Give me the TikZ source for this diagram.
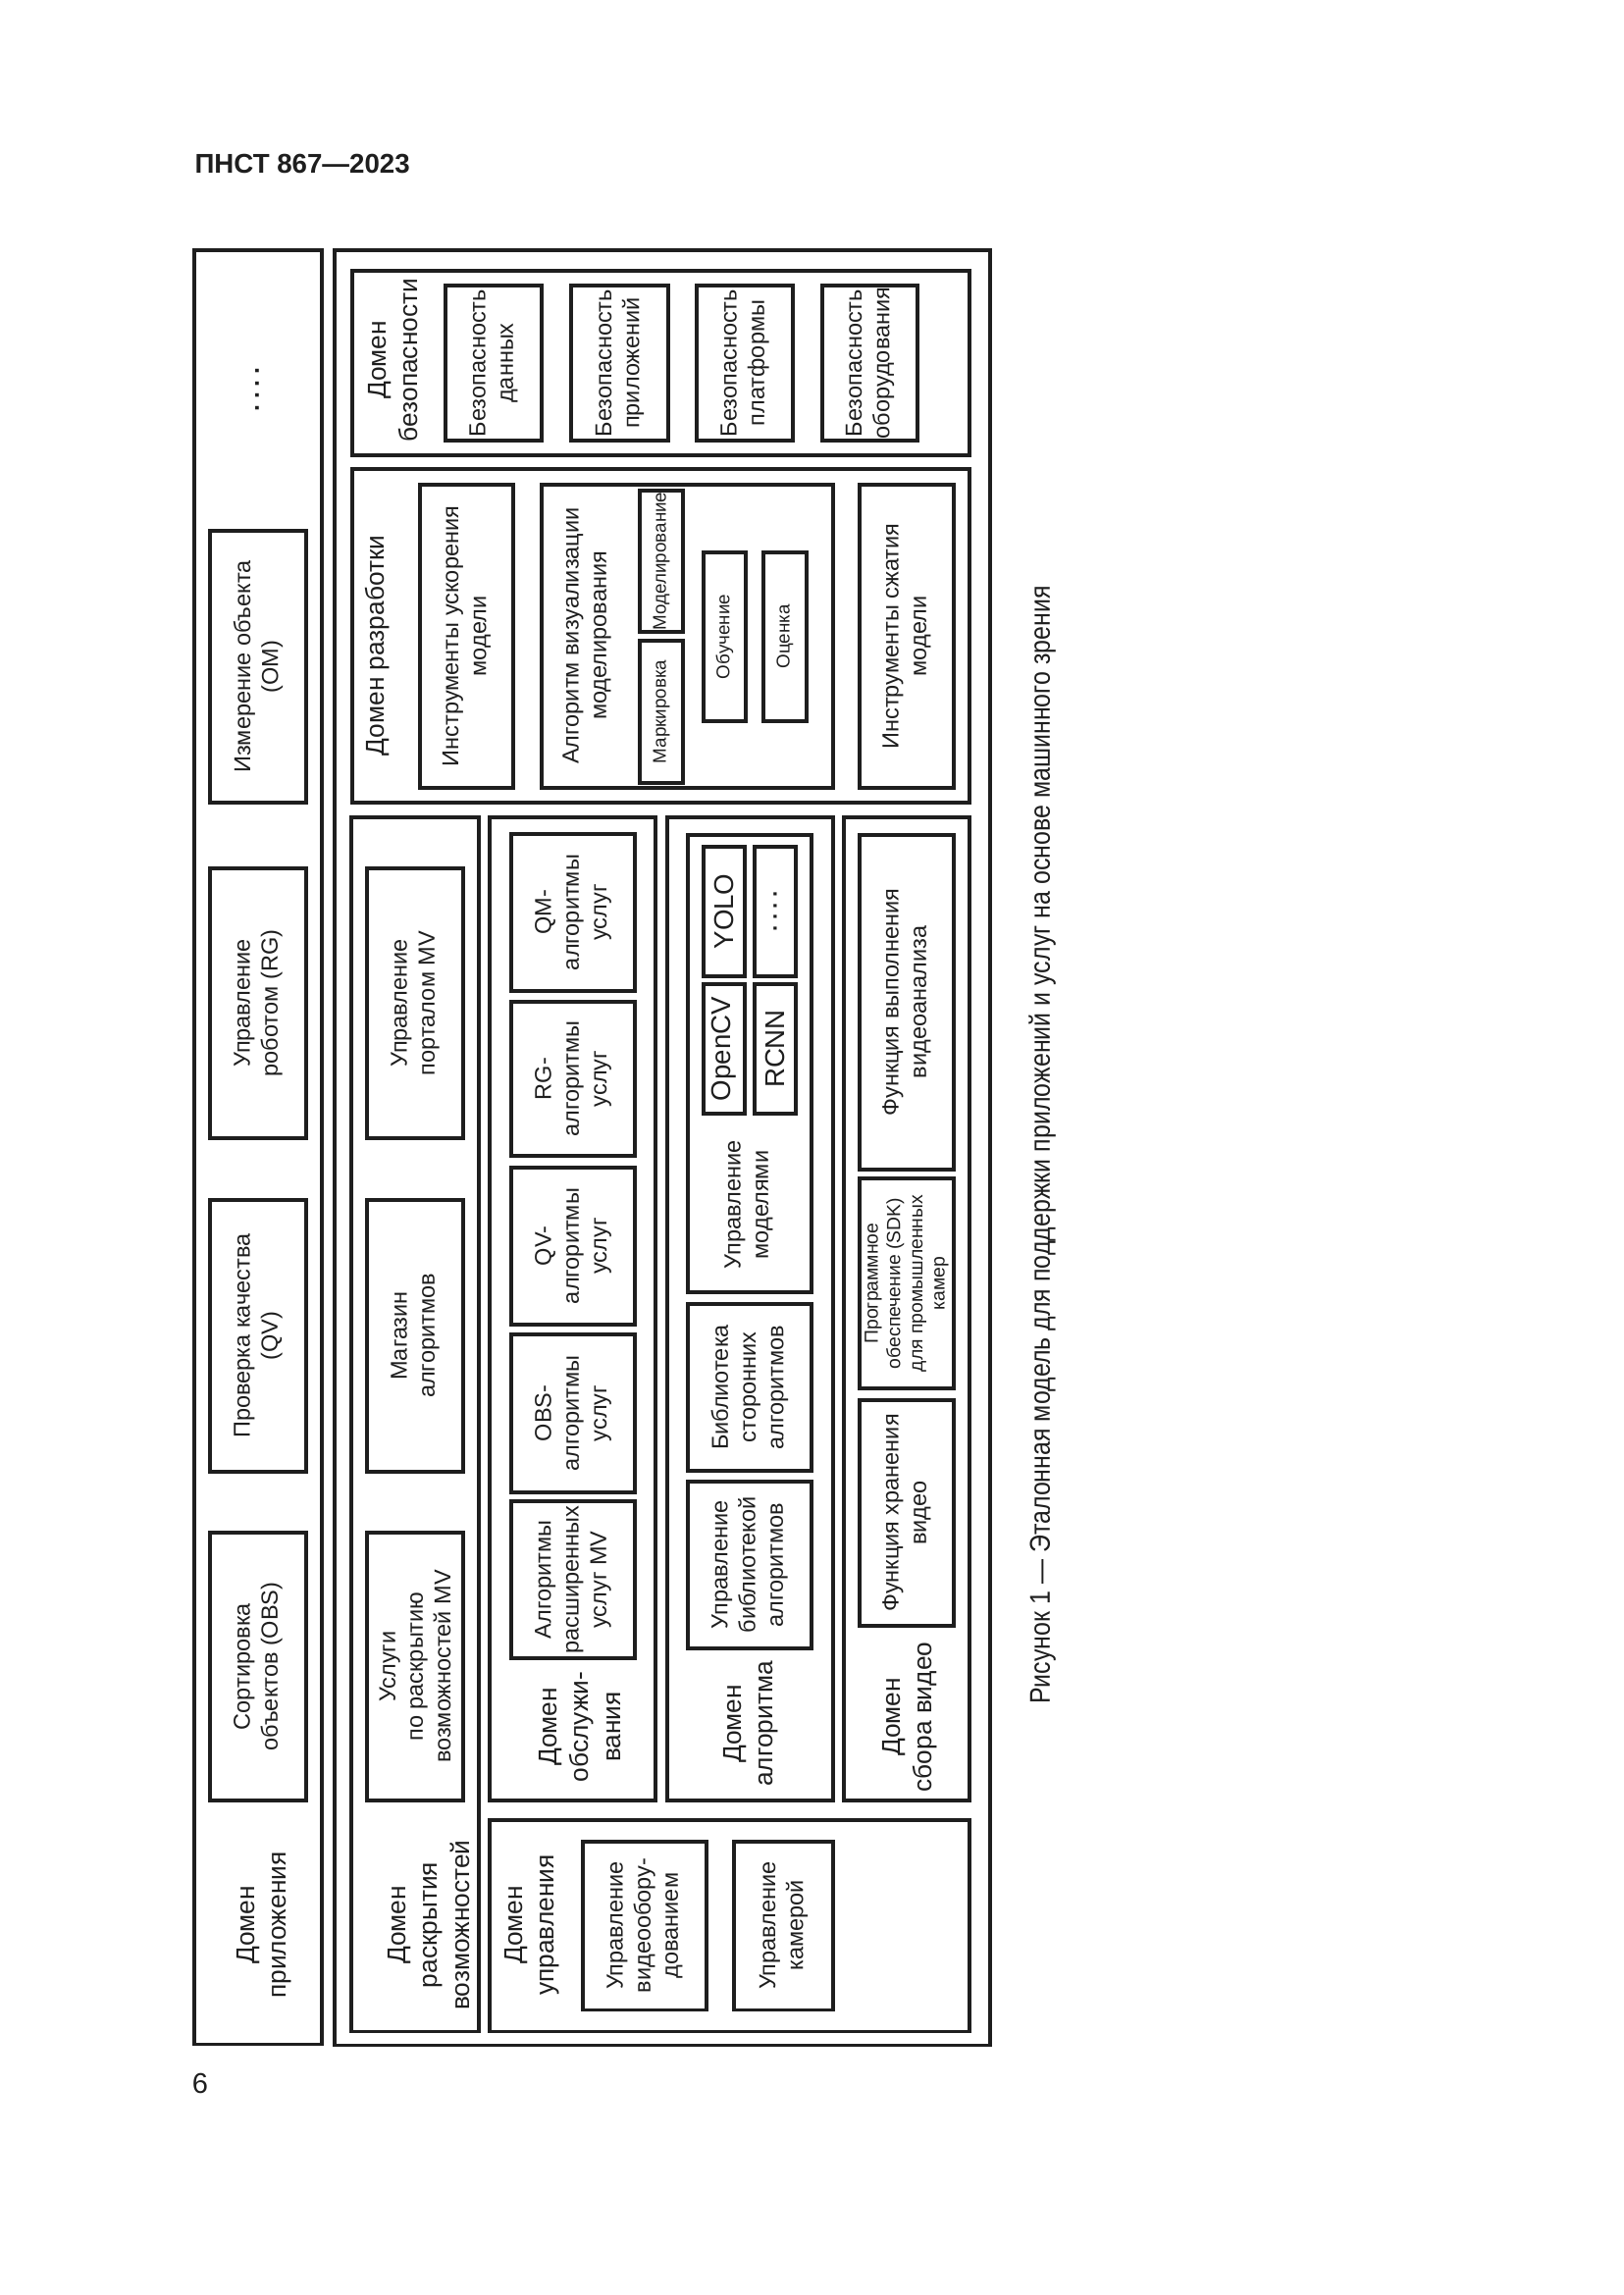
\documentclass[tikz,border=0pt]{standalone}
\usepackage{fontspec}
\setmainfont{Liberation Sans}
\newfontfamily\capfont[FakeStretch=0.86]{Liberation Sans}
\usetikzlibrary{fit}
\definecolor{ink}{HTML}{1E1E1E}

\tikzset{
  box/.style={draw=ink, line width=1.1pt, inner sep=0pt},
  txt/.style={rotate=90, align=center, text=ink, inner sep=0pt,
              font=\fontsize{8.5}{10.2}\selectfont},
  small/.style={txt, font=\fontsize{6.8}{8}\selectfont},
  sdk/.style={txt, font=\fontsize{7}{8.2}\selectfont},
  lib/.style={txt, font=\fontsize{10}{12}\selectfont},
  dom/.style={txt, font=\fontsize{9.5}{11.6}\selectfont},
}
\newcommand{\moredots}{\textbf{.\kern2pt.\kern2pt.\kern2pt.}}

\begin{document}
\begin{tikzpicture}[x=0.127mm, y=-0.127mm]
    \useasboundingbox (0,0) rectangle (1654,2339);

    % Page header
    \node[anchor=west, inner sep=0pt, text=ink,
          font=\bfseries\fontsize{10}{12}\selectfont] (head) at (198,167) {ПНСТ 867—2023};

    % Application domain
    \node[box, fit={(198,255) (328,2083)}] (appdom) {};
    \node[box, fit={(214,541) (312,818)}]   (om)  {};
    \node[box, fit={(214,885) (312,1160)}]  (rg)  {};
    \node[box, fit={(214,1223) (312,1500)}] (qv)  {};
    \node[box, fit={(214,1562) (312,1835)}] (obs) {};
    \node[txt, font=\fontsize{9}{11}\selectfont] (appmore) at (262,397) {\moredots};
    \node[txt] (om-t)  at (om)  {Измерение объекта\\(OM)};
    \node[txt] (rg-t)  at (rg)  {Управление\\роботом (RG)};
    \node[txt] (qv-t)  at (qv)  {Проверка качества\\(QV)};
    \node[txt] (obs-t) at (obs) {Сортировка\\объектов (OBS)};
    \node[dom] (applbl) at (269,1962) {Домен\\приложения};

    % Platform frame
    \node[box, fit={(341,255) (1009,2084)}] (platf) {};

    % Security domain
    \node[box, fit={(359,276) (988,464)}] (secdom) {};
    \node[box, fit={(454,291) (552,449)}] (secdata) {};
    \node[box, fit={(582,291) (681,449)}] (secapp)  {};
    \node[box, fit={(710,291) (808,449)}] (secplat) {};
    \node[box, fit={(838,291) (935,449)}] (sechw)   {};
    \node[dom] (seclbl) at (401,367) {Домен\\безопасности};
    \node[txt] (secdata-t) at (secdata) {Безопасность\\данных};
    \node[txt] (secapp-t)  at (secapp)  {Безопасность\\приложений};
    \node[txt] (secplat-t) at (secplat) {Безопасность\\платформы};
    \node[txt] (sechw-t)   at (sechw)   {Безопасность\\оборудования};

    % Development domain
    \node[box, fit={(359,478) (988,818)}] (devdom) {};
    \node[box, fit={(428,494) (523,803)}] (accel) {};
    \node[box, fit={(552,494) (849,803)}] (vis) {};
    \node[box, fit={(652,500) (696,644)}] (modl)  {};
    \node[box, fit={(652,653) (696,798)}] (mark)  {};
    \node[box, fit={(717,563) (760,735)}] (train) {};
    \node[box, fit={(778,563) (822,735)}] (evalu) {};
    \node[box, fit={(876,494) (972,803)}] (compr) {};
    \node[dom] (devlbl) at (385,658) {Домен разработки};
    \node[txt] (accel-t) at (accel) {Инструменты ускорения\\модели};
    \node[txt] (vislbl) at (598,648) {Алгоритм визуализации\\моделирования};
    \node[small] (modl-t)  at (modl)  {Моделирование};
    \node[small] (mark-t)  at (mark)  {Маркировка};
    \node[small] (train-t) at (train) {Обучение};
    \node[small] (evalu-t) at (evalu) {Оценка};
    \node[txt] (compr-t) at (compr) {Инструменты сжатия\\модели};

    % Capability exposure domain
    \node[box, fit={(358,833) (488,2070)}] (capdom) {};
    \node[box, fit={(374,885) (472,1160)}]  (portal) {};
    \node[box, fit={(374,1223) (472,1500)}] (store)  {};
    \node[box, fit={(374,1562) (472,1835)}] (expo)   {};
    \node[txt] (portal-t) at (portal) {Управление\\порталом MV};
    \node[txt] (store-t)  at (store)  {Магазин\\алгоритмов};
    \node[txt] (expo-t)   at (expo)   {Услуги\\по раскрытию\\возможностей MV};
    \node[dom] (caplbl) at (437,1962) {Домен\\раскрытия\\возможностей};

    % Service domain
    \node[box, fit={(499,833) (668,1835)}] (srvdom) {};
    \node[box, fit={(521,850) (647,1010)}]  (qmalg)  {};
    \node[box, fit={(521,1021) (647,1178)}] (rgalg)  {};
    \node[box, fit={(521,1190) (647,1350)}] (qvalg)  {};
    \node[box, fit={(521,1360) (647,1521)}] (obsalg) {};
    \node[box, fit={(521,1530) (647,1690)}] (extalg) {};
    \node[txt] (qmalg-t)  at (qmalg)  {QM-\\алгоритмы\\услуг};
    \node[txt] (rgalg-t)  at (rgalg)  {RG-\\алгоритмы\\услуг};
    \node[txt] (qvalg-t)  at (qvalg)  {QV-\\алгоритмы\\услуг};
    \node[txt] (obsalg-t) at (obsalg) {OBS-\\алгоритмы\\услуг};
    \node[txt] (extalg-t) at (extalg) {Алгоритмы\\расширенных\\услуг MV};
    \node[dom] (srvlbl) at (591,1760) {Домен\\обслужи-\\вания};

    % Algorithm domain
    \node[box, fit={(680,833) (849,1835)}] (algdom) {};
    \node[box, fit={(701,851) (827,1317)}] (mdlmgmt) {};
    \node[box, fit={(717,863) (759,995)}]   (yolo)   {};
    \node[box, fit={(717,1003) (759,1135)}] (opencv) {};
    \node[box, fit={(769,863) (811,995)}]   (more)   {};
    \node[box, fit={(769,1003) (811,1135)}] (rcnn)   {};
    \node[box, fit={(701,1329) (827,1499)}] (lib3)    {};
    \node[box, fit={(701,1510) (827,1680)}] (libmgmt) {};
    \node[lib] (yolo-t)   at (yolo)   {YOLO};
    \node[lib] (opencv-t) at (opencv) {OpenCV};
    \node[txt, font=\fontsize{8}{10}\selectfont] (more-t) at (more) {\moredots};
    \node[lib] (rcnn-t)   at (rcnn)   {RCNN};
    \node[txt] (mdllbl) at (763,1228) {Управление\\моделями};
    \node[txt] (lib3-t)    at (lib3)    {Библиотека\\сторонних\\алгоритмов};
    \node[txt] (libmgmt-t) at (libmgmt) {Управление\\библиотекой\\алгоритмов};
    \node[dom] (alglbl) at (765,1757) {Домен\\алгоритма};

    % Video collection domain
    \node[box, fit={(860,833) (988,1835)}] (viddom) {};
    \node[box, fit={(876,851) (972,1192)}]  (vana)   {};
    \node[box, fit={(876,1201) (972,1415)}] (sdkbox) {};
    \node[box, fit={(876,1427) (972,1657)}] (vstore) {};
    \node[txt] (vana-t)   at (vana)   {Функция выполнения\\видеоанализа};
    \node[sdk] (sdkbox-t) at (sdkbox) {Программное\\обеспечение (SDK)\\для промышленных\\камер};
    \node[txt] (vstore-t) at (vstore) {Функция хранения\\видео};
    \node[dom] (vidlbl) at (927,1750) {Домен\\сбора видео};

    % Control domain
    \node[box, fit={(499,1855) (988,2070)}] (ctldom) {};
    \node[box, fit={(594,1877) (720,2048)}] (veq) {};
    \node[box, fit={(748,1877) (849,2048)}] (cam) {};
    \node[dom] (ctllbl) at (542,1962) {Домен\\управления};
    \node[txt] (veq-t) at (veq) {Управление\\видеообору-\\дованием};
    \node[txt] (cam-t) at (cam) {Управление\\камерой};

    % Caption and page number
    \node[rotate=90, inner sep=0pt, text=ink,
          font=\capfont\fontsize{10.5}{12}\selectfont] (capt) at (1062,1167)
          {Рисунок 1 — Эталонная модель для поддержки приложений и услуг на основе машинного зрения};
    \node[inner sep=0pt, text=ink, font=\fontsize{10.5}{12}\selectfont] (pgno) at (204,2123) {6};
\end{tikzpicture}
\end{document}
